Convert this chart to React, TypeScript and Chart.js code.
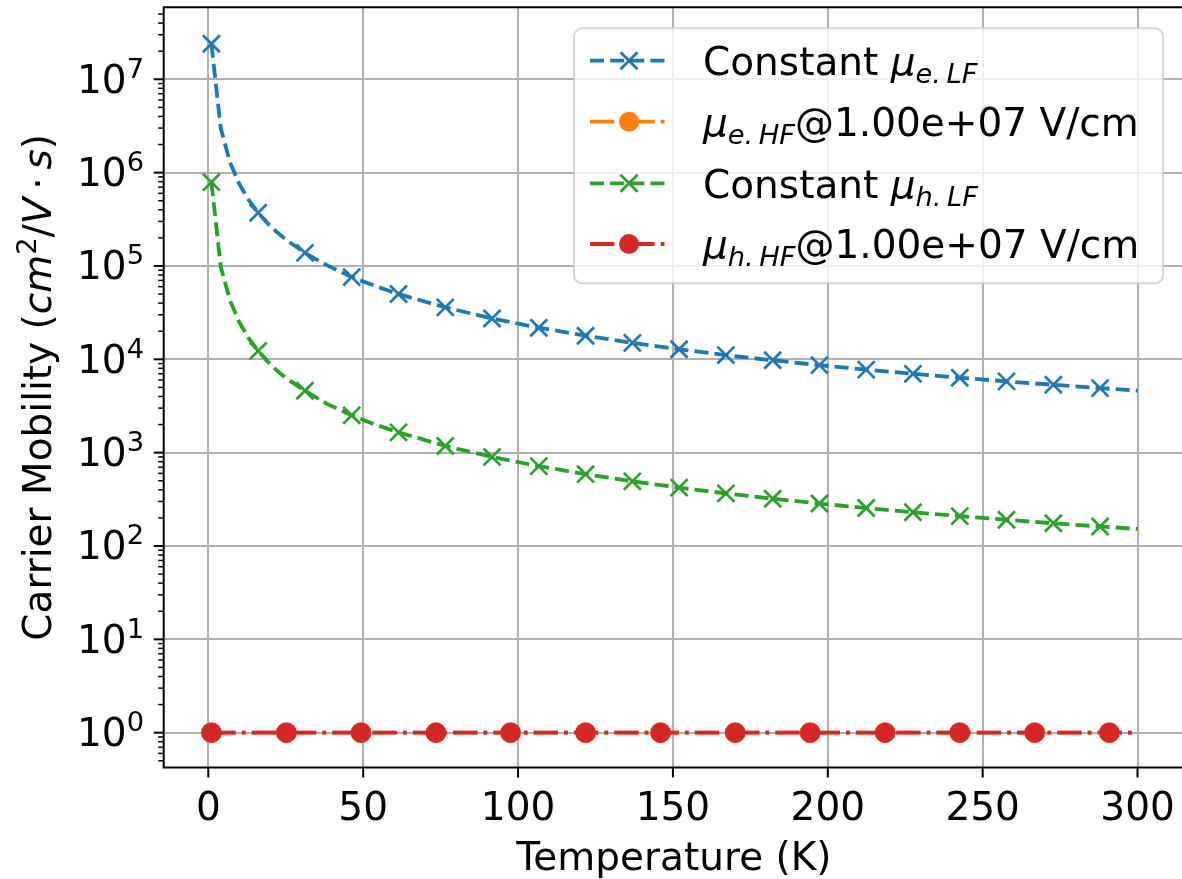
import React, { useEffect, useRef } from 'react';
import { Chart, registerables } from 'chart.js';

Chart.register(...registerables);

// ---------- data ----------
const tempLF = [1, 4.02, 7.04, 10.06, 13.08, 16.1, 19.1, 22.1, 25.2, 31.2, 38.2, 46.3, 53.3, 61.4, 76.5, 91.6, 106.7, 121.8, 136.9, 152.0, 167.1, 182.2, 197.3, 212.4, 227.5, 242.6, 257.7, 272.8, 287.9, 300];
const muELF = [2.4e7, 2.98e6, 1.28e6, 7.5e5, 5.07e5, 3.71e5, 2.87e5, 2.31e5, 1.9e5, 1.38e5, 1.02e5, 7.6e4, 6.2e4, 5.0e4, 3.6e4, 2.74e4, 2.18e4, 1.79e4, 1.5e4, 1.28e4, 1.11e4, 9.76e3, 8.66e3, 7.75e3, 6.99e3, 6.35e3, 5.8e3, 5.33e3, 4.91e3, 4.62e3];
const muHLF = [7.9e5, 9.8e4, 4.23e4, 2.48e4, 1.67e4, 1.23e4, 9.5e3, 7.6e3, 6.25e3, 4.6e3, 3.35e3, 2.51e3, 2.03e3, 1.65e3, 1.18e3, 900, 717, 588, 493, 422, 366, 321, 285, 255, 230, 209, 191, 175, 162, 152];
const markerTempLF = [1, 16.1, 31.2, 46.3, 61.4, 76.5, 91.6, 106.7, 121.8, 136.9, 152.0, 167.1, 182.2, 197.3, 212.4, 227.5, 242.6, 257.7, 272.8, 287.9];

const tempHF = [1, 25.2, 49.3, 73.5, 97.6, 121.8, 146.0, 170.1, 194.3, 218.5, 242.6, 266.8, 290.9, 300];
const muEHF = [1, 1, 1, 1, 1, 1, 1, 1, 1, 1, 1, 1, 1, 1];
const muHHF = [1, 1, 1, 1, 1, 1, 1, 1, 1, 1, 1, 1, 1, 1];
const markerTempHF = [1, 25.2, 49.3, 73.5, 97.6, 121.8, 146.0, 170.1, 194.3, 218.5, 242.6, 266.8, 290.9];

const xTickValues = [0, 50, 100, 150, 200, 250, 300];
const yTickExponents = [0, 1, 2, 3, 4, 5, 6, 7];

const xAxisTitle = 'Temperature (K)';

// ---------- style ----------
const C_BLUE = '#1f77b4';
const C_ORANGE = '#ff7f0e';
const C_GREEN = '#2ca02c';
const C_RED = '#d62728';
const FONT = "'DejaVu Sans', 'Liberation Sans', sans-serif";
const FS = 39;
const LW = 3.8;
const DASH = [3.7 * LW, 1.6 * LW];
const DASHDOT = [6.4 * LW, 1.6 * LW, 1.0 * LW, 1.6 * LW];

const CANVAS_W = 1190;
const CANVAS_H = 879;
const AREA = { left: 163.7, top: 7.3, right: 1184, bottom: 767.5 };

const pts = (xs: number[], ys: number[]) => xs.map((x, i) => ({ x, y: ys[i] }));
const markerRadius = (temps: number[], marks: number[], r: number) => (ctx: any) =>
  marks.indexOf(temps[ctx.dataIndex]) >= 0 ? r : 0;

type Piece = { t: string; font: string; dy?: number };

function drawPieces(ctx: CanvasRenderingContext2D, pieces: Piece[], x: number, y: number) {
  let cx = x;
  for (const p of pieces) {
    ctx.font = p.font;
    ctx.fillText(p.t, cx, y + (p.dy || 0));
    cx += ctx.measureText(p.t).width;
  }
  return cx;
}
function piecesWidth(ctx: CanvasRenderingContext2D, pieces: Piece[]) {
  let w = 0;
  for (const p of pieces) {
    ctx.font = p.font;
    w += ctx.measureText(p.t).width;
  }
  return w;
}

const reg = (s: number) => `${s}px ${FONT}`;
const ital = (s: number) => `italic ${s}px ${FONT}`;

const decor = {
  id: 'mplDecor',
  afterDatasetsDraw(chart: any) {
    const ctx: CanvasRenderingContext2D = chart.ctx;
    const a = chart.chartArea;
    const xs = chart.scales.x;
    const ys = chart.scales.y;
    ctx.save();
    ctx.setLineDash([]);
    ctx.fillStyle = '#000';
    ctx.strokeStyle = '#000';

    // spines
    ctx.lineWidth = 2;
    ctx.beginPath();
    ctx.moveTo(a.left, a.top); ctx.lineTo(a.right, a.top);
    ctx.moveTo(a.left, a.bottom); ctx.lineTo(a.right, a.bottom);
    ctx.moveTo(a.left, a.top - 1); ctx.lineTo(a.left, a.bottom + 1);
    ctx.moveTo(a.right, a.top - 1); ctx.lineTo(a.right, a.bottom + 1);
    ctx.stroke();

    // x ticks + labels
    ctx.font = reg(FS);
    ctx.textAlign = 'center';
    ctx.textBaseline = 'alphabetic';
    for (const v of xTickValues) {
      const px = xs.getPixelForValue(v);
      ctx.lineWidth = 2;
      ctx.beginPath(); ctx.moveTo(px, a.bottom); ctx.lineTo(px, a.bottom + 10); ctx.stroke();
      ctx.fillText(String(v), px, 820);
    }

    // y ticks (major + minor)
    const ymin = ys.min, ymax = ys.max;
    for (let e = -1; e <= 8; e++) {
      for (let k = 1; k <= 9; k++) {
        const v = k * Math.pow(10, e);
        if (v < ymin || v > ymax) continue;
        const py = ys.getPixelForValue(v);
        const major = k === 1;
        ctx.lineWidth = major ? 2 : 1.5;
        ctx.beginPath();
        ctx.moveTo(a.left - (major ? 10 : 5.5), py);
        ctx.lineTo(a.left, py);
        ctx.stroke();
      }
    }
    ctx.textAlign = 'left';
    for (const e of yTickExponents) {
      const py = ys.getPixelForValue(Math.pow(10, e));
      const pieces: Piece[] = [
        { t: '10', font: reg(FS) },
        { t: String(e), font: reg(FS * 0.7), dy: -15 },
      ];
      const w = piecesWidth(ctx, pieces);
      drawPieces(ctx, pieces, 144 - w, py + 13.5);
    }

    // x title
    ctx.font = reg(FS);
    ctx.textAlign = 'center';
    ctx.fillText(xAxisTitle, (a.left + a.right) / 2, 870);

    // y title (rotated)
    ctx.textAlign = 'left';
    const yt: Piece[] = [
      { t: 'Carrier Mobility ', font: reg(FS) },
      { t: '(', font: reg(FS) },
      { t: 'cm', font: ital(FS) },
      { t: '2', font: reg(FS * 0.7), dy: -15 },
      { t: '/', font: reg(FS) },
      { t: 'V', font: ital(FS) },
      { t: '\u2009\u00b7\u2009', font: reg(FS) },
      { t: 's', font: ital(FS) },
      { t: ')', font: reg(FS) },
    ];
    const ytw = piecesWidth(ctx, yt);
    ctx.save();
    ctx.translate(51, (a.top + a.bottom) / 2);
    ctx.rotate(-Math.PI / 2);
    drawPieces(ctx, yt, -ytw / 2, 0);
    ctx.restore();

    // legend
    const bx = 574, by = 28.3, bw = 1163 - 574, bh = 283.3 - 28.3, br = 8;
    ctx.beginPath();
    ctx.moveTo(bx + br, by);
    ctx.arcTo(bx + bw, by, bx + bw, by + bh, br);
    ctx.arcTo(bx + bw, by + bh, bx, by + bh, br);
    ctx.arcTo(bx, by + bh, bx, by, br);
    ctx.arcTo(bx, by, bx + bw, by, br);
    ctx.closePath();
    ctx.fillStyle = 'rgba(255,255,255,0.8)';
    ctx.fill();
    ctx.strokeStyle = 'rgba(204,204,204,0.8)';
    ctx.lineWidth = 2;
    ctx.stroke();

    const rows = [
      { color: C_BLUE, dash: DASH, marker: 'x', y: 60.7,
        text: [{ t: 'Constant ', font: reg(FS) }, { t: '\u03bc', font: ital(FS) }, { t: 'e.\u2009LF', font: ital(FS * 0.7), dy: 8 }] },
      { color: C_ORANGE, dash: DASHDOT, marker: 'o', y: 121.7,
        text: [{ t: '\u03bc', font: ital(FS) }, { t: 'e.\u2009HF', font: ital(FS * 0.7), dy: 8 }, { t: '@1.00e+07 V/cm', font: reg(FS) }] },
      { color: C_GREEN, dash: DASH, marker: 'x', y: 183.3,
        text: [{ t: 'Constant ', font: reg(FS) }, { t: '\u03bc', font: ital(FS) }, { t: 'h.\u2009LF', font: ital(FS * 0.7), dy: 8 }] },
      { color: C_RED, dash: DASHDOT, marker: 'o', y: 244,
        text: [{ t: '\u03bc', font: ital(FS) }, { t: 'h.\u2009HF', font: ital(FS * 0.7), dy: 8 }, { t: '@1.00e+07 V/cm', font: reg(FS) }] },
    ];
    const hx0 = 590, hx1 = 668, mx = (hx0 + hx1) / 2;
    for (const r of rows) {
      ctx.strokeStyle = r.color;
      ctx.fillStyle = r.color;
      ctx.lineWidth = LW;
      ctx.lineCap = 'butt';
      ctx.setLineDash(r.dash);
      ctx.lineDashOffset = 0;
      ctx.beginPath(); ctx.moveTo(hx0, r.y); ctx.lineTo(hx1, r.y); ctx.stroke();
      ctx.setLineDash([]);
      if (r.marker === 'x') {
        const d = 8.5;
        ctx.lineWidth = 2.7;
        ctx.beginPath();
        ctx.moveTo(mx - d, r.y - d); ctx.lineTo(mx + d, r.y + d);
        ctx.moveTo(mx - d, r.y + d); ctx.lineTo(mx + d, r.y - d);
        ctx.stroke();
      } else {
        ctx.beginPath(); ctx.arc(mx, r.y, 10, 0, Math.PI * 2); ctx.fill();
      }
      ctx.fillStyle = '#000';
      drawPieces(ctx, r.text as Piece[], 703, r.y + 14.3);
    }
    ctx.restore();
  },
};

export default function App() {
  const ref = useRef<HTMLCanvasElement | null>(null);
  useEffect(() => {
    if (!ref.current) return;
    const chart = new Chart(ref.current, {
      type: 'line',
      data: {
        datasets: [
          {
            label: 'Constant mu_e.LF',
            data: pts(tempLF, muELF),
            borderColor: C_BLUE, backgroundColor: C_BLUE,
            borderWidth: LW, borderDash: DASH, borderJoinStyle: 'round',
            pointStyle: 'crossRot', pointRadius: markerRadius(tempLF, markerTempLF, 12),
            pointBorderWidth: 2.7, pointBorderColor: C_BLUE, pointBackgroundColor: C_BLUE,
            order: 4,
          },
          {
            label: 'mu_e.HF@1.00e+07 V/cm',
            data: pts(tempHF, muEHF),
            borderColor: C_ORANGE, backgroundColor: C_ORANGE,
            borderWidth: LW, borderDash: DASHDOT, borderJoinStyle: 'round',
            pointStyle: 'circle', pointRadius: markerRadius(tempHF, markerTempHF, 10),
            pointBorderWidth: 0.5, pointBorderColor: C_ORANGE, pointBackgroundColor: C_ORANGE,
            order: 3,
          },
          {
            label: 'Constant mu_h.LF',
            data: pts(tempLF, muHLF),
            borderColor: C_GREEN, backgroundColor: C_GREEN,
            borderWidth: LW, borderDash: DASH, borderJoinStyle: 'round',
            pointStyle: 'crossRot', pointRadius: markerRadius(tempLF, markerTempLF, 12),
            pointBorderWidth: 2.7, pointBorderColor: C_GREEN, pointBackgroundColor: C_GREEN,
            order: 2,
          },
          {
            label: 'mu_h.HF@1.00e+07 V/cm',
            data: pts(tempHF, muHHF),
            borderColor: C_RED, backgroundColor: C_RED,
            borderWidth: LW, borderDash: DASHDOT, borderJoinStyle: 'round',
            pointStyle: 'circle', pointRadius: markerRadius(tempHF, markerTempHF, 10),
            pointBorderWidth: 0.5, pointBorderColor: C_RED, pointBackgroundColor: C_RED,
            order: 1,
          },
        ],
      },
      options: {
        responsive: false,
        maintainAspectRatio: false,
        devicePixelRatio: 1,
        animation: false,
        events: [],
        layout: {
          autoPadding: false,
          padding: {
            left: AREA.left,
            top: AREA.top,
            right: CANVAS_W - AREA.right,
            bottom: CANVAS_H - AREA.bottom,
          },
        },
        plugins: {
          legend: { display: false },
          tooltip: { enabled: false },
          title: { display: false },
        },
        scales: {
          x: {
            type: 'linear',
            min: -14.4,
            max: 315.0,
            ticks: { display: false },
            grid: { color: '#b0b0b0', lineWidth: 2, drawTicks: false },
            border: { display: false },
            afterBuildTicks: (axis: any) => { axis.ticks = xTickValues.map((v) => ({ value: v })); },
            afterFit: (axis: any) => { axis.height = 0; },
          },
          y: {
            type: 'logarithmic',
            min: Math.pow(10, -0.373),
            max: Math.pow(10, 7.771),
            ticks: { display: false },
            grid: { color: '#b0b0b0', lineWidth: 2, drawTicks: false },
            border: { display: false },
            afterBuildTicks: (axis: any) => { axis.ticks = yTickExponents.map((e) => ({ value: Math.pow(10, e) })); },
            afterFit: (axis: any) => { axis.width = 0; },
          },
        },
      } as any,
      plugins: [decor],
    });
    return () => chart.destroy();
  }, []);

  return (
    <div style={{ position: 'absolute', left: 0, top: 0, width: 1182, height: 879, overflow: 'hidden', background: '#fff' }}>
      <canvas ref={ref} width={CANVAS_W} height={CANVAS_H} style={{ display: 'block', width: CANVAS_W, height: CANVAS_H }} />
    </div>
  );
}
